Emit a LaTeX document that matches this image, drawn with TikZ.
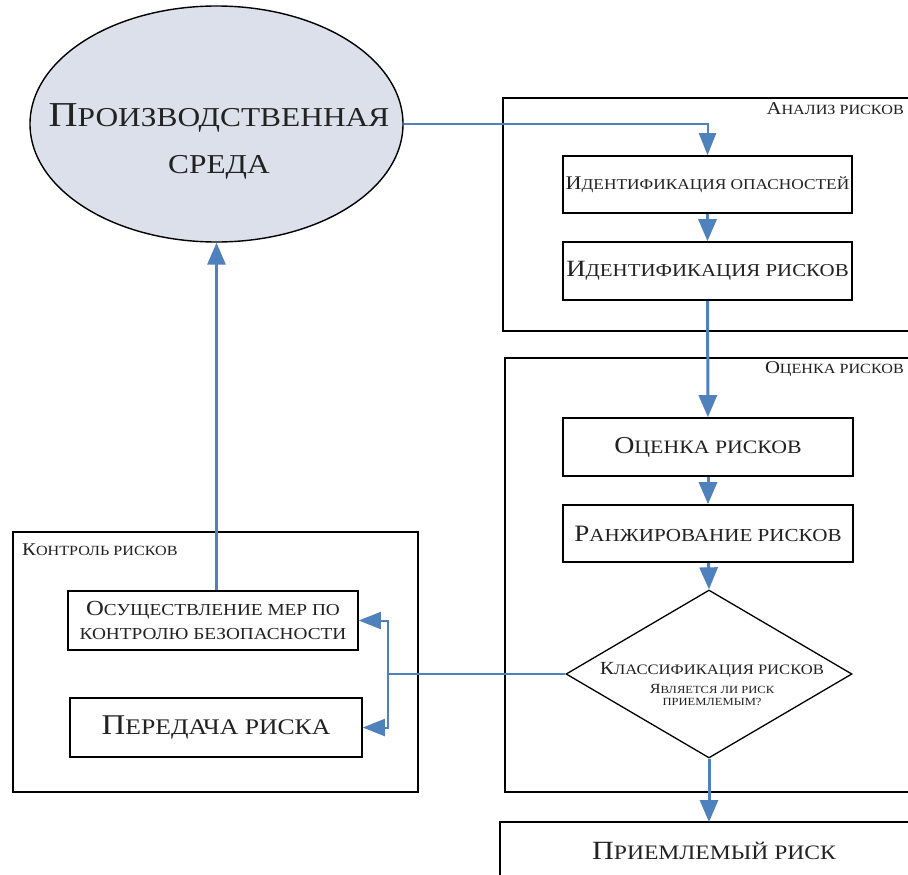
\documentclass[tikz,border=0pt]{standalone}
\usepackage{fontspec}
\setmainfont[FakeStretch=1.15]{Liberation Serif}
\usetikzlibrary{arrows.meta,shapes.geometric}
\makeatletter
\newcommand\sm[1]{{\fontsize{\fpeval{0.78*\f@size}}{\f@baselineskip}\selectfont #1}}
\makeatother
\definecolor{flow}{HTML}{4F81BD}
\definecolor{envfill}{HTML}{DCE0EA}
\definecolor{ink}{HTML}{222222}
\tikzset{
  procbox/.style={draw=black, line width=1.6pt, rectangle, inner sep=0pt, text=ink, align=center},
  groupbox/.style={draw=black, line width=1.8pt},
  grouplabel/.style={text=ink, font=\fontsize{18}{21}\selectfont, inner sep=0pt},
  flowarrow/.style={draw=flow, line width=3pt, -{Triangle[length=22pt,width=18pt]}},
  flowthin/.style={draw=flow, line width=2pt, -{Triangle[length=22pt,width=17pt]}},
  flowline/.style={draw=flow, line width=2pt},
}
\begin{document}
\begin{tikzpicture}[x=1pt,y=-1pt]
\clip (0,0) rectangle (908,875);
\fill[white] (0,0) rectangle (908,875);
% group boxes
\draw[groupbox] (503,98) rectangle (930,331);
\draw[groupbox] (505,358) rectangle (930,792);
\draw[groupbox] (13,532) rectangle (418,792);
\draw[groupbox] (500,822) rectangle (930,900);
\node[grouplabel, anchor=east] (lab1) at (904,109) {А\sm{НАЛИЗ РИСКОВ}};
\node[grouplabel, anchor=east] (lab2) at (904,369) {О\sm{ЦЕНКА РИСКОВ}};
\node[grouplabel, anchor=west] (lab3) at (22,550) {К\sm{ОНТРОЛЬ РИСКОВ}};
% environment ellipse
\node[ellipse, draw=black, line width=1.4pt, fill=envfill, minimum width=373pt, minimum height=236pt, inner sep=0pt] (env) at (216.5,124) {};
\node[text=ink, align=center, inner sep=0pt, font=\fontsize{35}{47}\selectfont] (envt) at (219,141) {П\sm{РОИЗВОДСТВЕННАЯ}\\\sm{СРЕДА}};
% process boxes
\node[procbox, minimum width=289pt, minimum height=57pt, font=\fontsize{19.3}{23}\selectfont] (ia) at (707.5,184.5) {И\sm{ДЕНТИФИКАЦИЯ ОПАСНОСТЕЙ}};
\node[procbox, minimum width=289pt, minimum height=58pt, font=\fontsize{23.3}{27}\selectfont] (ir) at (707.5,271) {И\sm{ДЕНТИФИКАЦИЯ РИСКОВ}};
\node[procbox, minimum width=290pt, minimum height=58pt, font=\fontsize{24.3}{28}\selectfont] (or) at (708,447) {О\sm{ЦЕНКА РИСКОВ}};
\node[procbox, minimum width=290pt, minimum height=57pt, font=\fontsize{23.5}{27}\selectfont] (rr) at (708,533.5) {Р\sm{АНЖИРОВАНИЕ РИСКОВ}};
\node[diamond, draw=black, line width=1.3pt, minimum width=286pt, minimum height=168pt, inner sep=0pt] (cls) at (709,674) {};
\node[text=ink, align=center, inner sep=0pt, font=\fontsize{14}{12.5}\selectfont] (clst) at (712,684) {{\fontsize{18.5}{12.5}\selectfont К\sm{ЛАССИФИКАЦИЯ РИСКОВ}}\\[6.5pt]Я\sm{ВЛЯЕТСЯ ЛИ РИСК}\\\sm{ПРИЕМЛЕМЫМ?}};
\node[text=ink, inner sep=0pt, font=\fontsize{26.3}{30}\selectfont] (acc) at (714,851) {П\sm{РИЕМЛЕМЫЙ РИСК}};
\coordinate (acctop) at (709,822);
\node[procbox, minimum width=290pt, minimum height=59pt, font=\fontsize{21.5}{26}\selectfont] (osu) at (213,620.5) {О\sm{СУЩЕСТВЛЕНИЕ МЕР ПО}\\[-2pt]\sm{КОНТРОЛЮ БЕЗОПАСНОСТИ}};
\node[procbox, minimum width=292pt, minimum height=59pt, font=\fontsize{28.6}{32}\selectfont] (per) at (216,727.5) {П\sm{ЕРЕДАЧА РИСКА}};
% connectors
\draw[flowthin] (env.east) -| (ia.north);
\draw[flowarrow] (ia) -- (ir);
\draw[flowarrow] (ir) -- (or);
\draw[flowarrow] (or) -- (rr);
\draw[flowarrow] (rr) -- (cls.north);
\draw[flowarrow] (cls.south) -- (acctop);
\coordinate (split) at (388,674);
\draw[flowline] (cls.west) -- (split);
\draw[flowthin] (split) |- (osu.east);
\draw[flowthin] (split) |- (per.east);
\draw[flowarrow] (osu.north -| env.south) -- (env.south);
\end{tikzpicture}
\end{document}
